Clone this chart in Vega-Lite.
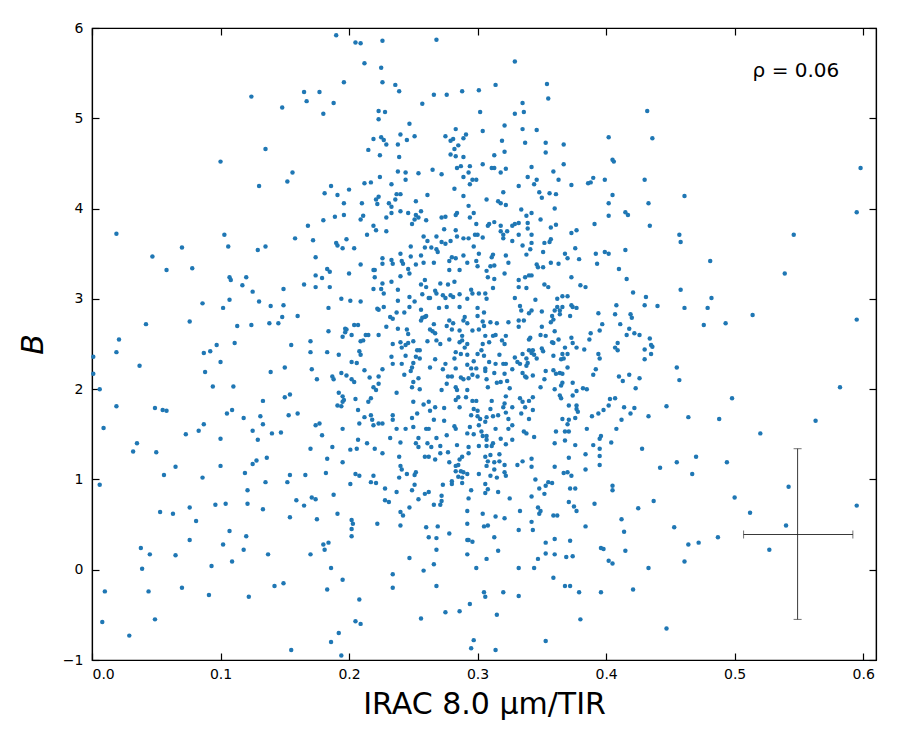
{
"$schema":"https://vega.github.io/schema/vega-lite/v6.json",
"width":784,"height":632,
"autosize":{"type":"none"},
"padding":{"left":92,"top":28,"right":24,"bottom":90},
"background":"white",
"config":{"view":{"stroke":"black","strokeWidth":1.2},"font":"DejaVu Sans"},
"datasets":{
"pts":[
{"x":0.124,"y":5.24},{"x":0.148,"y":5.12},{"x":0.135,"y":4.66},{"x":0.100,"y":4.52},{"x":0.130,"y":4.25},{"x":0.152,"y":4.30},{"x":0.019,"y":3.72},{"x":0.103,"y":3.71},
{"x":0.190,"y":5.92},{"x":0.205,"y":5.84},{"x":0.209,"y":5.83},{"x":0.226,"y":5.86},{"x":0.268,"y":5.87},{"x":0.212,"y":5.61},{"x":0.225,"y":5.56},{"x":0.196,"y":5.40},{"x":0.226,"y":5.40},{"x":0.236,"y":5.37},{"x":0.239,"y":5.30},{"x":0.165,"y":5.29},{"x":0.177,"y":5.29},{"x":0.167,"y":5.19},{"x":0.188,"y":5.17},{"x":0.180,"y":5.05},{"x":0.266,"y":5.26},{"x":0.276,"y":5.26},{"x":0.288,"y":5.30},{"x":0.301,"y":5.31},{"x":0.257,"y":5.16},{"x":0.302,"y":5.07},{"x":0.223,"y":5.08},{"x":0.228,"y":5.07},{"x":0.223,"y":4.99},{"x":0.247,"y":4.94},{"x":0.240,"y":4.82},{"x":0.225,"y":4.79},{"x":0.219,"y":4.77},{"x":0.227,"y":4.76},{"x":0.229,"y":4.71},{"x":0.238,"y":4.71},{"x":0.245,"y":4.76},{"x":0.251,"y":4.80},{"x":0.215,"y":4.65},{"x":0.224,"y":4.59},{"x":0.239,"y":4.57},{"x":0.275,"y":4.80},{"x":0.283,"y":4.88},{"x":0.291,"y":4.82},{"x":0.289,"y":4.78},{"x":0.279,"y":4.75},{"x":0.281,"y":4.77},{"x":0.304,"y":4.86},{"x":0.285,"y":4.70},{"x":0.282,"y":4.66},{"x":0.279,"y":4.60},{"x":0.283,"y":4.58},{"x":0.289,"y":4.57},{"x":0.156,"y":4.40},{"x":0.238,"y":4.41},{"x":0.244,"y":4.40},{"x":0.254,"y":4.39},{"x":0.265,"y":4.43},{"x":0.272,"y":4.38},{"x":0.284,"y":4.45},{"x":0.287,"y":4.47},{"x":0.294,"y":4.47},{"x":0.293,"y":4.40},{"x":0.304,"y":4.49},{"x":0.224,"y":4.35},{"x":0.244,"y":4.32},{"x":0.289,"y":4.35},{"x":0.296,"y":4.32},{"x":0.299,"y":4.32},{"x":0.294,"y":4.27},{"x":0.212,"y":4.28},{"x":0.217,"y":4.29},{"x":0.233,"y":4.27},{"x":0.186,"y":4.25},{"x":0.200,"y":4.21},{"x":0.181,"y":4.17},{"x":0.191,"y":4.15},{"x":0.223,"y":4.13},{"x":0.221,"y":4.10},{"x":0.237,"y":4.16},{"x":0.240,"y":4.16},{"x":0.236,"y":4.10},{"x":0.261,"y":4.15},{"x":0.282,"y":4.22},{"x":0.289,"y":4.14},{"x":0.196,"y":4.06},{"x":0.210,"y":4.06},{"x":0.222,"y":4.05},{"x":0.231,"y":4.06},{"x":0.233,"y":4.02},{"x":0.252,"y":4.08},{"x":0.293,"y":4.03},{"x":0.240,"y":3.97},{"x":0.256,"y":3.97},{"x":0.233,"y":3.95},{"x":0.246,"y":3.95},{"x":0.252,"y":3.93},{"x":0.254,"y":3.90},{"x":0.251,"y":3.88},{"x":0.260,"y":3.87},{"x":0.249,"y":3.83},{"x":0.284,"y":3.95},{"x":0.283,"y":3.93},{"x":0.297,"y":3.95},{"x":0.272,"y":3.90},{"x":0.275,"y":3.91},{"x":0.294,"y":3.90},{"x":0.299,"y":3.83},{"x":0.211,"y":3.92},{"x":0.209,"y":3.88},{"x":0.189,"y":3.91},{"x":0.196,"y":3.93},{"x":0.229,"y":3.90},{"x":0.180,"y":3.87},{"x":0.168,"y":3.81},{"x":0.219,"y":3.81},{"x":0.221,"y":3.76},{"x":0.229,"y":3.75},{"x":0.214,"y":3.71},{"x":0.274,"y":3.77},{"x":0.283,"y":3.76},{"x":0.258,"y":3.69},{"x":0.268,"y":3.69},{"x":0.284,"y":3.69},{"x":0.289,"y":3.67},{"x":0.293,"y":3.67},{"x":0.298,"y":3.71},{"x":0.300,"y":3.71},{"x":0.304,"y":3.68},{"x":0.158,"y":3.67},{"x":0.172,"y":3.65},{"x":0.198,"y":3.66},
{"x":0.329,"y":5.63},{"x":0.314,"y":5.37},{"x":0.354,"y":5.38},{"x":0.355,"y":5.22},{"x":0.335,"y":5.17},{"x":0.329,"y":5.05},{"x":0.336,"y":5.07},{"x":0.321,"y":4.92},{"x":0.335,"y":4.88},{"x":0.346,"y":4.87},{"x":0.319,"y":4.75},{"x":0.337,"y":4.73},{"x":0.353,"y":4.73},{"x":0.367,"y":4.71},{"x":0.321,"y":4.63},{"x":0.353,"y":4.62},{"x":0.313,"y":4.59},{"x":0.311,"y":4.45},{"x":0.313,"y":4.45},{"x":0.322,"y":4.44},{"x":0.318,"y":4.40},{"x":0.342,"y":4.46},{"x":0.367,"y":4.49},{"x":0.359,"y":4.41},{"x":0.339,"y":4.35},{"x":0.346,"y":4.32},{"x":0.363,"y":4.32},{"x":0.344,"y":4.27},{"x":0.332,"y":4.25},{"x":0.373,"y":4.26},{"x":0.320,"y":4.18},{"x":0.348,"y":4.18},{"x":0.356,"y":4.17},{"x":0.361,"y":4.16},{"x":0.350,"y":4.12},{"x":0.307,"y":4.10},{"x":0.316,"y":4.08},{"x":0.318,"y":4.06},{"x":0.322,"y":4.04},{"x":0.334,"y":3.99},{"x":0.360,"y":4.00},{"x":0.342,"y":3.95},{"x":0.338,"y":3.92},{"x":0.349,"y":3.88},{"x":0.313,"y":3.85},{"x":0.309,"y":3.83},{"x":0.308,"y":3.81},{"x":0.318,"y":3.81},{"x":0.329,"y":3.83},{"x":0.332,"y":3.84},{"x":0.327,"y":3.81},{"x":0.339,"y":3.84},{"x":0.339,"y":3.78},{"x":0.357,"y":3.79},{"x":0.361,"y":3.82},{"x":0.318,"y":3.75},{"x":0.323,"y":3.75},{"x":0.320,"y":3.71},{"x":0.332,"y":3.71},{"x":0.342,"y":3.71},{"x":0.320,"y":3.67},{"x":0.357,"y":3.66},{"x":0.373,"y":3.73},{"x":0.377,"y":3.76},{"x":0.391,"y":3.83},{"x":0.402,"y":4.79},{"x":0.405,"y":4.54},{"x":0.406,"y":4.52},{"x":0.386,"y":4.28},{"x":0.388,"y":4.29},{"x":0.390,"y":4.34},{"x":0.399,"y":4.32},{"x":0.402,"y":4.06},{"x":0.405,"y":4.15},{"x":0.402,"y":3.92},{"x":0.415,"y":3.96},{"x":0.417,"y":3.93},{"x":0.432,"y":5.08},{"x":0.436,"y":4.78},{"x":0.430,"y":4.32},{"x":0.433,"y":4.06},{"x":0.434,"y":3.81},{"x":0.457,"y":3.71},
{"x":0.461,"y":4.14},{"x":0.546,"y":3.71},{"x":0.598,"y":4.45},{"x":0.595,"y":3.96},
{"x":0.070,"y":3.57},{"x":0.106,"y":3.58},{"x":0.129,"y":3.54},{"x":0.135,"y":3.58},{"x":0.047,"y":3.47},{"x":0.058,"y":3.32},{"x":0.078,"y":3.34},{"x":0.107,"y":3.24},{"x":0.108,"y":3.21},{"x":0.120,"y":3.24},{"x":0.117,"y":3.15},{"x":0.125,"y":3.08},{"x":0.149,"y":3.11},{"x":0.086,"y":2.95},{"x":0.107,"y":2.99},{"x":0.102,"y":2.90},{"x":0.130,"y":2.97},{"x":0.139,"y":2.92},{"x":0.149,"y":2.93},{"x":0.148,"y":2.80},{"x":0.042,"y":2.72},{"x":0.076,"y":2.75},{"x":0.113,"y":2.70},{"x":0.124,"y":2.71},{"x":0.138,"y":2.73},{"x":0.145,"y":2.73},{"x":0.021,"y":2.55},{"x":0.019,"y":2.41},{"x":0.097,"y":2.49},{"x":0.111,"y":2.51},{"x":0.087,"y":2.40},{"x":0.092,"y":2.42},{"x":0.100,"y":2.30},{"x":0.001,"y":2.36},{"x":0.001,"y":2.17},{"x":0.037,"y":2.26},{"x":0.088,"y":2.19},{"x":0.139,"y":2.19},{"x":0.150,"y":2.24},{"x":0.006,"y":2.00},{"x":0.094,"y":2.03},{"x":0.110,"y":2.03},{"x":0.019,"y":1.81},{"x":0.049,"y":1.79},{"x":0.055,"y":1.77},{"x":0.058,"y":1.76},{"x":0.133,"y":1.87},{"x":0.150,"y":1.91},{"x":0.105,"y":1.73},{"x":0.109,"y":1.77},{"x":0.118,"y":1.68},{"x":0.131,"y":1.70},{"x":0.153,"y":1.71},{"x":0.133,"y":1.61},{"x":0.009,"y":1.57},{"x":0.087,"y":1.61},{"x":0.083,"y":1.54},{"x":0.073,"y":1.50},{"x":0.125,"y":1.54},{"x":0.140,"y":1.51},{"x":0.147,"y":1.52},{"x":0.100,"y":1.45},{"x":0.129,"y":1.44},{"x":0.035,"y":1.40},{"x":0.032,"y":1.31},{"x":0.050,"y":1.30},
{"x":0.056,"y":1.05},{"x":0.065,"y":1.14},{"x":0.086,"y":1.02},{"x":0.100,"y":1.15},{"x":0.119,"y":1.07},{"x":0.125,"y":1.17},{"x":0.128,"y":1.21},{"x":0.136,"y":1.24},{"x":0.006,"y":0.94},{"x":0.135,"y":0.97},{"x":0.152,"y":0.97},{"x":0.121,"y":0.88},{"x":0.053,"y":0.64},{"x":0.063,"y":0.62},{"x":0.076,"y":0.69},{"x":0.096,"y":0.72},{"x":0.104,"y":0.73},{"x":0.121,"y":0.73},{"x":0.133,"y":0.67},{"x":0.081,"y":0.54},{"x":0.107,"y":0.43},{"x":0.120,"y":0.37},{"x":0.076,"y":0.33},{"x":0.102,"y":0.28},{"x":0.038,"y":0.24},{"x":0.045,"y":0.17},{"x":0.065,"y":0.16},{"x":0.118,"y":0.22},{"x":0.109,"y":0.09},{"x":0.137,"y":0.17},{"x":0.039,"y":0.01},{"x":0.093,"y":0.04},{"x":0.010,"y":-0.24},{"x":0.044,"y":-0.24},{"x":0.070,"y":-0.20},{"x":0.091,"y":-0.28},{"x":0.122,"y":-0.30},{"x":0.142,"y":-0.18},{"x":0.149,"y":-0.15},{"x":0.008,"y":-0.58},{"x":0.049,"y":-0.55},{"x":0.029,"y":-0.73},
{"x":0.455,"y":1.19},{"x":0.470,"y":1.25},{"x":0.494,"y":1.19},{"x":0.467,"y":1.06},{"x":0.542,"y":0.92},{"x":0.500,"y":0.80},{"x":0.512,"y":0.63},{"x":0.540,"y":0.49},{"x":0.595,"y":0.71},{"x":0.487,"y":0.36},{"x":0.464,"y":0.28},{"x":0.472,"y":0.30},{"x":0.527,"y":0.22},{"x":0.461,"y":0.09},
{"x":0.458,"y":3.63},{"x":0.481,"y":3.42},{"x":0.539,"y":3.28},{"x":0.458,"y":3.10},{"x":0.482,"y":3.01},{"x":0.461,"y":2.90},{"x":0.479,"y":2.90},{"x":0.514,"y":2.82},{"x":0.476,"y":2.71},{"x":0.493,"y":2.73},{"x":0.595,"y":2.77},{"x":0.455,"y":2.24},{"x":0.457,"y":2.10},{"x":0.582,"y":2.02},{"x":0.498,"y":1.90},{"x":0.464,"y":1.69},{"x":0.488,"y":1.67},{"x":0.563,"y":1.65},{"x":0.520,"y":1.51},
{"x":0.428,"y":1.34},{"x":0.442,"y":1.13},{"x":0.395,"y":1.34},{"x":0.395,"y":1.26},{"x":0.395,"y":1.16},{"x":0.384,"y":1.28},{"x":0.384,"y":1.11},{"x":0.371,"y":1.24},{"x":0.367,"y":1.07},{"x":0.370,"y":1.08},{"x":0.373,"y":1.04},{"x":0.360,"y":1.14},{"x":0.342,"y":1.23},{"x":0.342,"y":1.14},{"x":0.335,"y":1.20},{"x":0.331,"y":1.16},{"x":0.317,"y":1.28},{"x":0.310,"y":1.27},{"x":0.306,"y":1.25},{"x":0.308,"y":1.20},{"x":0.313,"y":1.19},{"x":0.317,"y":1.20},{"x":0.321,"y":1.16},{"x":0.307,"y":1.15},{"x":0.313,"y":1.11},{"x":0.321,"y":1.08},{"x":0.322,"y":1.04},{"x":0.310,"y":1.04},{"x":0.315,"y":1.02},{"x":0.345,"y":1.00},{"x":0.355,"y":0.97},{"x":0.358,"y":0.96},{"x":0.353,"y":0.93},{"x":0.306,"y":0.95},{"x":0.308,"y":0.89},{"x":0.306,"y":0.85},{"x":0.316,"y":0.86},{"x":0.348,"y":0.90},{"x":0.352,"y":0.84},{"x":0.372,"y":0.90},{"x":0.376,"y":0.90},{"x":0.325,"y":0.79},{"x":0.342,"y":0.81},{"x":0.371,"y":0.75},{"x":0.405,"y":0.93},{"x":0.405,"y":0.88},{"x":0.437,"y":0.76},{"x":0.391,"y":0.73},{"x":0.347,"y":0.69},{"x":0.375,"y":0.70},{"x":0.349,"y":0.65},{"x":0.348,"y":0.62},{"x":0.333,"y":0.65},{"x":0.377,"y":0.65},{"x":0.425,"y":0.68},{"x":0.304,"y":0.62},{"x":0.314,"y":0.59},{"x":0.321,"y":0.57},{"x":0.359,"y":0.60},{"x":0.362,"y":0.60},{"x":0.412,"y":0.56},{"x":0.342,"y":0.53},{"x":0.305,"y":0.48},{"x":0.308,"y":0.49},{"x":0.384,"y":0.48},{"x":0.414,"y":0.42},{"x":0.453,"y":0.47},{"x":0.332,"y":0.44},{"x":0.343,"y":0.44},{"x":0.313,"y":0.36},{"x":0.353,"y":0.30},{"x":0.360,"y":0.34},{"x":0.372,"y":0.32},{"x":0.316,"y":0.21},{"x":0.353,"y":0.18},{"x":0.360,"y":0.17},{"x":0.369,"y":0.14},{"x":0.374,"y":0.15},{"x":0.396,"y":0.24},{"x":0.398,"y":0.23},{"x":0.415,"y":0.21},{"x":0.307,"y":0.12},{"x":0.347,"y":0.12},{"x":0.402,"y":0.10},{"x":0.405,"y":0.07},{"x":0.332,"y":0.02},{"x":0.344,"y":0.02},{"x":0.433,"y":0.02},{"x":0.359,"y":-0.09},{"x":0.368,"y":-0.18},{"x":0.372,"y":-0.18},{"x":0.305,"y":-0.25},{"x":0.306,"y":-0.30},{"x":0.320,"y":-0.25},{"x":0.332,"y":-0.29},{"x":0.379,"y":-0.25},{"x":0.396,"y":-0.25},{"x":0.421,"y":-0.22},{"x":0.315,"y":-0.50},{"x":0.380,"y":-0.55},{"x":0.447,"y":-0.65},{"x":0.353,"y":-0.79},{"x":0.314,"y":-0.89},
{"x":0.154,"y":0.58},{"x":0.155,"y":-0.89},{"x":0.194,"y":-0.95},{"x":0.186,"y":-0.80},{"x":0.192,"y":-0.70},{"x":0.205,"y":-0.57},{"x":0.209,"y":-0.60},{"x":0.208,"y":-0.33},{"x":0.183,"y":-0.22},{"x":0.195,"y":-0.11},{"x":0.186,"y":0.02},{"x":0.170,"y":0.17},{"x":0.180,"y":0.28},{"x":0.184,"y":0.30},{"x":0.181,"y":0.22},{"x":0.202,"y":0.55},{"x":0.203,"y":0.51},{"x":0.202,"y":0.45},{"x":0.202,"y":0.37},{"x":0.222,"y":0.51},{"x":0.175,"y":0.56},{"x":0.191,"y":0.62},{"x":0.159,"y":0.77},{"x":0.165,"y":0.71},{"x":0.171,"y":0.80},{"x":0.174,"y":0.78},{"x":0.188,"y":0.83},{"x":0.154,"y":1.05},{"x":0.166,"y":1.05},{"x":0.182,"y":1.07},{"x":0.183,"y":1.23},{"x":0.195,"y":1.19},{"x":0.201,"y":0.95},{"x":0.205,"y":1.06},{"x":0.208,"y":1.04},{"x":0.217,"y":0.97},{"x":0.219,"y":1.04},{"x":0.221,"y":0.96},{"x":0.228,"y":0.90},{"x":0.228,"y":0.77},{"x":0.231,"y":0.75},{"x":0.237,"y":0.86},{"x":0.240,"y":0.64},{"x":0.242,"y":0.60},{"x":0.240,"y":0.49},{"x":0.247,"y":0.69},{"x":0.247,"y":0.13},{"x":0.234,"y":-0.05},{"x":0.234,"y":-0.20},{"x":0.256,"y":-0.54},{"x":0.258,"y":-0.01},{"x":0.266,"y":0.06},{"x":0.268,"y":-0.18},{"x":0.275,"y":-0.47},{"x":0.286,"y":-0.46},{"x":0.294,"y":-0.38},{"x":0.299,"y":0.02},{"x":0.297,"y":-0.78},{"x":0.295,"y":-0.87},{"x":0.292,"y":0.17},{"x":0.268,"y":0.22},{"x":0.262,"y":0.36},{"x":0.268,"y":0.35},{"x":0.278,"y":0.40},{"x":0.260,"y":0.47},{"x":0.269,"y":0.48},{"x":0.292,"y":0.51},{"x":0.292,"y":0.33},{"x":0.293,"y":0.33},{"x":0.296,"y":0.31},{"x":0.292,"y":0.65},{"x":0.293,"y":0.79},{"x":0.295,"y":0.88},{"x":0.266,"y":0.72},{"x":0.271,"y":0.72},{"x":0.272,"y":0.76},{"x":0.272,"y":0.82},{"x":0.273,"y":0.94},{"x":0.280,"y":0.95},{"x":0.280,"y":0.98},{"x":0.254,"y":0.78},{"x":0.259,"y":0.84},{"x":0.262,"y":0.86},{"x":0.249,"y":0.88},{"x":0.251,"y":0.94},{"x":0.251,"y":1.05},{"x":0.252,"y":1.08},{"x":0.245,"y":1.06},{"x":0.239,"y":1.02},{"x":0.241,"y":1.11},{"x":0.240,"y":1.15},{"x":0.239,"y":1.25},{"x":0.226,"y":1.29},{"x":0.220,"y":1.34},{"x":0.201,"y":1.33},{"x":0.206,"y":1.34},{"x":0.170,"y":1.34},{"x":0.259,"y":1.25},{"x":0.262,"y":1.25},{"x":0.267,"y":1.22},{"x":0.271,"y":1.29},{"x":0.277,"y":1.30},{"x":0.278,"y":1.19},{"x":0.283,"y":1.15},{"x":0.285,"y":1.16},{"x":0.286,"y":1.22},{"x":0.288,"y":1.25},{"x":0.293,"y":1.29},{"x":0.283,"y":1.09},{"x":0.287,"y":1.09},{"x":0.289,"y":1.08},{"x":0.292,"y":1.06},{"x":0.285,"y":1.03},{"x":0.288,"y":1.02},{"x":0.288,"y":0.96},{"x":0.301,"y":1.06},
{"x":0.279,"y":3.64},{"x":0.272,"y":3.63},{"x":0.275,"y":3.61},{"x":0.190,"y":3.62},{"x":0.191,"y":3.59},{"x":0.195,"y":3.56},{"x":0.204,"y":3.56},{"x":0.174,"y":3.46},{"x":0.209,"y":3.38},{"x":0.174,"y":3.26},{"x":0.179,"y":3.23},{"x":0.183,"y":3.33},{"x":0.185,"y":3.30},{"x":0.174,"y":3.13},{"x":0.185,"y":3.13},{"x":0.165,"y":3.16},{"x":0.200,"y":3.28},{"x":0.194,"y":3.00},{"x":0.201,"y":2.98},{"x":0.209,"y":2.97},{"x":0.184,"y":2.90},{"x":0.160,"y":2.81},{"x":0.184,"y":2.64},{"x":0.197,"y":2.67},{"x":0.198,"y":2.66},{"x":0.197,"y":2.63},{"x":0.204,"y":2.71},{"x":0.207,"y":2.71},{"x":0.202,"y":2.60},{"x":0.195,"y":2.58},{"x":0.213,"y":2.60},{"x":0.215,"y":2.60},{"x":0.223,"y":2.60},{"x":0.209,"y":2.53},{"x":0.211,"y":2.54},{"x":0.155,"y":2.49},{"x":0.170,"y":2.53},{"x":0.170,"y":2.41},{"x":0.183,"y":2.41},{"x":0.192,"y":2.38},{"x":0.208,"y":2.42},{"x":0.209,"y":2.38},{"x":0.202,"y":2.30},{"x":0.206,"y":2.29},{"x":0.171,"y":2.22},{"x":0.212,"y":2.21},{"x":0.175,"y":2.11},{"x":0.187,"y":2.14},{"x":0.188,"y":2.11},{"x":0.194,"y":2.18},{"x":0.198,"y":2.15},{"x":0.202,"y":2.11},{"x":0.204,"y":2.08},{"x":0.216,"y":2.13},{"x":0.223,"y":2.14},{"x":0.219,"y":2.02},{"x":0.221,"y":1.99},{"x":0.223,"y":2.06},{"x":0.192,"y":1.96},{"x":0.195,"y":1.92},{"x":0.196,"y":1.88},{"x":0.195,"y":1.86},{"x":0.191,"y":1.82},{"x":0.194,"y":1.81},{"x":0.205,"y":1.89},{"x":0.215,"y":1.86},{"x":0.217,"y":1.90},{"x":0.154,"y":1.94},{"x":0.160,"y":1.73},{"x":0.207,"y":1.77},{"x":0.212,"y":1.69},{"x":0.217,"y":1.71},{"x":0.218,"y":1.66},{"x":0.219,"y":1.60},{"x":0.208,"y":1.62},{"x":0.223,"y":1.62},{"x":0.226,"y":1.62},{"x":0.177,"y":1.62},{"x":0.174,"y":1.60},{"x":0.195,"y":1.56},{"x":0.179,"y":1.49},{"x":0.207,"y":1.44},{"x":0.187,"y":1.36},{"x":0.214,"y":1.40},{"x":0.232,"y":1.46},
{"x":0.226,"y":3.45},{"x":0.233,"y":3.43},{"x":0.234,"y":3.39},{"x":0.226,"y":3.39},{"x":0.240,"y":3.50},{"x":0.241,"y":3.42},{"x":0.242,"y":3.39},{"x":0.248,"y":3.47},{"x":0.248,"y":3.58},{"x":0.219,"y":3.32},{"x":0.220,"y":3.32},{"x":0.220,"y":3.24},{"x":0.233,"y":3.19},{"x":0.240,"y":3.25},{"x":0.246,"y":3.33},{"x":0.247,"y":3.28},{"x":0.252,"y":3.38},{"x":0.226,"y":3.17},{"x":0.225,"y":3.11},{"x":0.219,"y":3.11},{"x":0.227,"y":3.06},{"x":0.238,"y":3.10},{"x":0.238,"y":2.98},{"x":0.247,"y":3.02},{"x":0.251,"y":2.97},{"x":0.259,"y":3.21},{"x":0.256,"y":3.16},{"x":0.260,"y":3.13},{"x":0.257,"y":3.05},{"x":0.262,"y":3.01},{"x":0.258,"y":3.40},{"x":0.256,"y":3.48},{"x":0.259,"y":3.57},{"x":0.264,"y":3.57},{"x":0.261,"y":3.64},{"x":0.268,"y":3.55},{"x":0.269,"y":3.52},{"x":0.266,"y":3.40},{"x":0.222,"y":2.89},{"x":0.223,"y":2.88},{"x":0.227,"y":2.91},{"x":0.232,"y":2.80},{"x":0.234,"y":2.78},{"x":0.237,"y":2.85},{"x":0.243,"y":2.85},{"x":0.247,"y":2.91},{"x":0.256,"y":2.88},{"x":0.257,"y":2.79},{"x":0.256,"y":2.76},{"x":0.259,"y":2.80},{"x":0.260,"y":2.81},{"x":0.229,"y":2.69},{"x":0.238,"y":2.67},{"x":0.245,"y":2.66},{"x":0.246,"y":2.61},{"x":0.234,"y":2.50},{"x":0.240,"y":2.52},{"x":0.241,"y":2.46},{"x":0.244,"y":2.49},{"x":0.246,"y":2.51},{"x":0.250,"y":2.53},{"x":0.253,"y":2.43},{"x":0.255,"y":2.43},{"x":0.233,"y":2.36},{"x":0.244,"y":2.37},{"x":0.252,"y":2.36},{"x":0.255,"y":2.34},{"x":0.234,"y":2.28},{"x":0.241,"y":2.28},{"x":0.250,"y":2.29},{"x":0.249,"y":2.24},{"x":0.248,"y":2.20},{"x":0.226,"y":2.22},{"x":0.243,"y":2.16},{"x":0.254,"y":2.12},{"x":0.250,"y":2.08},{"x":0.249,"y":2.02},{"x":0.255,"y":2.00},{"x":0.237,"y":1.96},{"x":0.250,"y":1.86},{"x":0.253,"y":1.73},{"x":0.234,"y":1.71},{"x":0.234,"y":1.66},{"x":0.237,"y":1.56},{"x":0.244,"y":1.56},{"x":0.250,"y":1.58},{"x":0.249,"y":1.68},{"x":0.260,"y":1.56},{"x":0.262,"y":1.56},{"x":0.258,"y":1.83},{"x":0.262,"y":1.86},{"x":0.267,"y":1.80},{"x":0.274,"y":1.79},{"x":0.274,"y":1.65},{"x":0.266,"y":1.66},{"x":0.268,"y":1.46},{"x":0.276,"y":1.49},{"x":0.283,"y":1.56},{"x":0.282,"y":1.59},{"x":0.292,"y":1.51},{"x":0.294,"y":1.58},{"x":0.297,"y":1.50},{"x":0.301,"y":1.60},{"x":0.302,"y":1.67},{"x":0.300,"y":1.70},{"x":0.300,"y":1.76},{"x":0.297,"y":1.78},{"x":0.296,"y":1.87},{"x":0.299,"y":1.87},{"x":0.291,"y":1.91},{"x":0.283,"y":1.88},{"x":0.285,"y":1.91},{"x":0.286,"y":1.80},{"x":0.276,"y":2.06},{"x":0.283,"y":2.02},{"x":0.284,"y":1.99},{"x":0.272,"y":1.99},{"x":0.292,"y":1.99},{"x":0.296,"y":2.16},{"x":0.293,"y":2.12},{"x":0.289,"y":2.11},{"x":0.287,"y":2.13},{"x":0.280,"y":2.14},{"x":0.277,"y":2.14},{"x":0.300,"y":2.14},{"x":0.292,"y":2.27},{"x":0.295,"y":2.23},{"x":0.299,"y":2.23},{"x":0.283,"y":2.23},{"x":0.275,"y":2.28},{"x":0.273,"y":2.22},{"x":0.267,"y":2.33},{"x":0.263,"y":2.24},{"x":0.282,"y":2.34},{"x":0.287,"y":2.39},{"x":0.283,"y":2.41},{"x":0.292,"y":2.38},{"x":0.297,"y":2.31},{"x":0.300,"y":2.39},{"x":0.303,"y":2.43},{"x":0.290,"y":2.46},{"x":0.288,"y":2.54},{"x":0.288,"y":2.59},{"x":0.286,"y":2.52},{"x":0.292,"y":2.50},{"x":0.271,"y":2.50},{"x":0.278,"y":2.55},{"x":0.268,"y":2.54},{"x":0.261,"y":2.53},{"x":0.263,"y":2.66},{"x":0.265,"y":2.64},{"x":0.267,"y":2.62},{"x":0.276,"y":2.70},{"x":0.280,"y":2.66},{"x":0.286,"y":2.65},{"x":0.296,"y":2.65},{"x":0.301,"y":2.66},{"x":0.290,"y":2.80},{"x":0.289,"y":2.76},{"x":0.292,"y":2.73},{"x":0.281,"y":2.73},{"x":0.278,"y":2.76},{"x":0.266,"y":2.72},{"x":0.270,"y":2.90},{"x":0.276,"y":2.91},{"x":0.286,"y":2.91},{"x":0.281,"y":3.02},{"x":0.279,"y":3.04},{"x":0.273,"y":3.04},{"x":0.275,"y":3.01},{"x":0.268,"y":3.06},{"x":0.267,"y":3.09},{"x":0.263,"y":3.01},{"x":0.271,"y":3.17},{"x":0.277,"y":3.16},{"x":0.282,"y":3.19},{"x":0.286,"y":3.05},{"x":0.295,"y":3.10},{"x":0.296,"y":3.06},{"x":0.301,"y":3.06},{"x":0.292,"y":3.00},{"x":0.300,"y":2.90},{"x":0.300,"y":2.81},{"x":0.278,"y":3.32},{"x":0.286,"y":3.32},{"x":0.278,"y":3.42},{"x":0.280,"y":3.46},{"x":0.283,"y":3.45},{"x":0.289,"y":3.48},{"x":0.292,"y":3.40},{"x":0.299,"y":3.42},{"x":0.301,"y":3.50},{"x":0.300,"y":3.36},{"x":0.297,"y":3.58},
{"x":0.263,"y":1.76},{"x":0.295,"y":1.71},{"x":0.303,"y":1.53},{"x":0.254,"y":1.46},{"x":0.252,"y":1.40},{"x":0.254,"y":1.36},{"x":0.261,"y":1.40},{"x":0.264,"y":1.36},{"x":0.271,"y":1.37},{"x":0.284,"y":1.38},{"x":0.293,"y":1.36},{"x":0.301,"y":1.37},{"x":0.240,"y":1.41},
{"x":0.327,"y":3.64},{"x":0.335,"y":3.59},{"x":0.341,"y":3.55},{"x":0.338,"y":3.49},{"x":0.342,"y":3.62},{"x":0.352,"y":3.62},{"x":0.356,"y":3.63},{"x":0.351,"y":3.52},{"x":0.363,"y":3.39},{"x":0.368,"y":3.50},{"x":0.370,"y":3.45},{"x":0.376,"y":3.56},{"x":0.379,"y":3.44},{"x":0.392,"y":3.50},{"x":0.399,"y":3.52},{"x":0.402,"y":3.50},{"x":0.415,"y":3.54},{"x":0.393,"y":3.39},{"x":0.357,"y":3.40},{"x":0.346,"y":3.38},{"x":0.347,"y":3.35},{"x":0.351,"y":3.35},{"x":0.322,"y":3.48},{"x":0.324,"y":3.40},{"x":0.312,"y":3.49},{"x":0.311,"y":3.46},{"x":0.313,"y":3.37},{"x":0.310,"y":3.36},{"x":0.307,"y":3.31},{"x":0.308,"y":3.24},{"x":0.313,"y":3.22},{"x":0.321,"y":3.28},{"x":0.332,"y":3.21},{"x":0.332,"y":3.13},{"x":0.338,"y":3.12},{"x":0.337,"y":3.24},{"x":0.340,"y":3.26},{"x":0.342,"y":3.26},{"x":0.352,"y":3.16},{"x":0.355,"y":3.13},{"x":0.373,"y":3.24},{"x":0.380,"y":3.15},{"x":0.384,"y":3.13},{"x":0.410,"y":3.33},{"x":0.416,"y":3.22},{"x":0.421,"y":3.07},{"x":0.431,"y":3.02},{"x":0.430,"y":2.93},{"x":0.440,"y":2.92},{"x":0.408,"y":2.93},{"x":0.407,"y":2.83},{"x":0.419,"y":2.83},{"x":0.420,"y":2.79},{"x":0.411,"y":2.72},{"x":0.418,"y":2.67},{"x":0.416,"y":2.60},{"x":0.422,"y":2.62},{"x":0.426,"y":2.60},{"x":0.434,"y":2.56},{"x":0.435,"y":2.49},{"x":0.436,"y":2.47},{"x":0.430,"y":2.44},{"x":0.435,"y":2.39},{"x":0.430,"y":2.33},{"x":0.409,"y":2.51},{"x":0.407,"y":2.46},{"x":0.409,"y":2.43},{"x":0.395,"y":2.65},{"x":0.397,"y":2.72},{"x":0.394,"y":2.84},{"x":0.388,"y":2.62},{"x":0.387,"y":2.55},{"x":0.394,"y":2.39},{"x":0.395,"y":2.34},{"x":0.383,"y":2.44},{"x":0.392,"y":2.22},{"x":0.390,"y":2.16},{"x":0.410,"y":2.14},{"x":0.413,"y":2.09},{"x":0.418,"y":2.16},{"x":0.426,"y":2.12},{"x":0.423,"y":2.01},{"x":0.447,"y":1.81},{"x":0.433,"y":1.70},{"x":0.422,"y":1.79},{"x":0.419,"y":1.73},{"x":0.414,"y":1.80},{"x":0.412,"y":1.66},{"x":0.407,"y":1.90},{"x":0.403,"y":1.89},{"x":0.402,"y":1.82},{"x":0.398,"y":1.77},{"x":0.394,"y":1.73},{"x":0.389,"y":1.70},{"x":0.408,"y":1.56},{"x":0.404,"y":1.41},{"x":0.396,"y":1.48},{"x":0.395,"y":1.45},{"x":0.390,"y":1.38},{"x":0.385,"y":1.56},{"x":0.376,"y":1.38},{"x":0.368,"y":1.43},{"x":0.360,"y":1.40},{"x":0.361,"y":1.53},{"x":0.368,"y":1.53},{"x":0.371,"y":1.53},{"x":0.370,"y":1.61},{"x":0.371,"y":1.66},{"x":0.366,"y":1.67},{"x":0.376,"y":1.68},{"x":0.378,"y":1.75},{"x":0.377,"y":1.78},{"x":0.371,"y":1.82},{"x":0.377,"y":1.82},{"x":0.374,"y":1.93},{"x":0.377,"y":1.98},{"x":0.374,"y":2.07},{"x":0.382,"y":2.01},{"x":0.385,"y":2.00},{"x":0.366,"y":2.07},{"x":0.365,"y":2.04},{"x":0.360,"y":2.00},{"x":0.364,"y":1.93},{"x":0.365,"y":1.90},{"x":0.359,"y":2.21},{"x":0.361,"y":2.17},{"x":0.364,"y":2.18},{"x":0.366,"y":2.17},{"x":0.370,"y":2.24},{"x":0.365,"y":2.33},{"x":0.367,"y":2.34},{"x":0.366,"y":2.39},{"x":0.370,"y":2.39},{"x":0.368,"y":2.46},{"x":0.359,"y":2.37},{"x":0.359,"y":2.51},{"x":0.358,"y":2.52},{"x":0.363,"y":2.55},{"x":0.373,"y":2.57},{"x":0.374,"y":2.51},{"x":0.377,"y":2.46},{"x":0.353,"y":2.59},{"x":0.349,"y":2.60},{"x":0.350,"y":2.69},{"x":0.359,"y":2.77},{"x":0.357,"y":2.74},{"x":0.360,"y":2.64},{"x":0.360,"y":2.87},{"x":0.364,"y":2.87},{"x":0.366,"y":2.91},{"x":0.362,"y":2.91},{"x":0.364,"y":2.83},{"x":0.372,"y":2.81},{"x":0.373,"y":2.93},{"x":0.374,"y":2.91},{"x":0.377,"y":2.90},{"x":0.362,"y":3.00},{"x":0.366,"y":3.03},{"x":0.370,"y":3.03},{"x":0.345,"y":2.99},{"x":0.342,"y":2.87},{"x":0.350,"y":2.86},{"x":0.340,"y":2.84},{"x":0.333,"y":2.92},{"x":0.334,"y":2.87},{"x":0.329,"y":3.01},{"x":0.332,"y":2.76},{"x":0.336,"y":2.76},{"x":0.332,"y":2.69},{"x":0.324,"y":2.74},{"x":0.315,"y":2.73},{"x":0.310,"y":2.74},{"x":0.304,"y":2.75},{"x":0.305,"y":2.70},{"x":0.306,"y":3.06},{"x":0.307,"y":3.00},{"x":0.312,"y":3.12},{"x":0.305,"y":2.85},{"x":0.306,"y":2.59},{"x":0.312,"y":2.59},{"x":0.314,"y":2.60},{"x":0.322,"y":2.59},{"x":0.319,"y":2.54},{"x":0.321,"y":2.50},{"x":0.309,"y":2.52},{"x":0.304,"y":2.50},{"x":0.317,"y":2.38},{"x":0.305,"y":2.37},{"x":0.309,"y":2.30},{"x":0.314,"y":2.28},{"x":0.320,"y":2.28},{"x":0.322,"y":2.28},{"x":0.306,"y":2.23},{"x":0.306,"y":2.20},{"x":0.313,"y":2.18},{"x":0.321,"y":2.17},{"x":0.327,"y":2.22},{"x":0.329,"y":2.35},{"x":0.335,"y":2.39},{"x":0.331,"y":2.30},{"x":0.333,"y":2.28},{"x":0.338,"y":2.34},{"x":0.339,"y":2.29},{"x":0.338,"y":2.26},{"x":0.340,"y":2.43},{"x":0.342,"y":2.40},{"x":0.344,"y":2.38},{"x":0.346,"y":2.34},{"x":0.343,"y":2.43},{"x":0.341,"y":2.57},{"x":0.340,"y":2.55},{"x":0.350,"y":2.45},{"x":0.351,"y":2.42},{"x":0.335,"y":2.18},{"x":0.338,"y":2.13},{"x":0.337,"y":2.14},{"x":0.343,"y":2.15},{"x":0.353,"y":2.20},{"x":0.352,"y":2.11},{"x":0.349,"y":2.02},{"x":0.318,"y":2.08},{"x":0.323,"y":2.09},{"x":0.325,"y":2.01},{"x":0.315,"y":2.07},{"x":0.307,"y":2.11},{"x":0.308,"y":2.02},{"x":0.311,"y":1.87},{"x":0.322,"y":1.92},{"x":0.321,"y":1.84},{"x":0.320,"y":1.80},{"x":0.327,"y":1.80},{"x":0.333,"y":1.90},{"x":0.335,"y":1.86},{"x":0.340,"y":1.87},{"x":0.343,"y":1.91},{"x":0.337,"y":1.80},{"x":0.343,"y":1.77},{"x":0.334,"y":1.73},{"x":0.322,"y":1.74},{"x":0.316,"y":1.71},{"x":0.312,"y":1.70},{"x":0.307,"y":1.69},{"x":0.306,"y":1.64},{"x":0.310,"y":1.78},{"x":0.324,"y":1.67},{"x":0.340,"y":1.67},{"x":0.336,"y":1.53},{"x":0.338,"y":1.51},{"x":0.327,"y":1.60},{"x":0.324,"y":1.56},{"x":0.314,"y":1.56},{"x":0.307,"y":1.48},{"x":0.304,"y":1.48},{"x":0.307,"y":1.44},{"x":0.312,"y":1.40},{"x":0.318,"y":1.45},{"x":0.322,"y":1.39},{"x":0.327,"y":1.44},{"x":0.344,"y":1.47},{"x":0.307,"y":1.37},{"x":0.311,"y":1.37},{"x":0.358,"y":2.81}
],
"hbar":[{"lo":0.507,"hi":0.592,"yc":0.39}],
"vbar":[{"xc":0.549,"lo":-0.55,"hi":1.34}],
"note":[{"x":0.514,"y":5.52,"t":"ρ = 0.06"}]
},
"layer":[
{"data":{"name":"pts"},
 "mark":{"type":"circle","size":20,"color":"#1f77b4","opacity":1},
 "encoding":{
  "x":{"field":"x","type":"quantitative","scale":{"domain":[0,0.61],"nice":false,"zero":false},
   "axis":{"orient":"bottom","values":[0,0.1,0.2,0.3,0.4,0.5,0.6],"format":".1f","grid":false,"tickSize":-7,"tickWidth":1.2,"tickColor":"black","domainColor":"black","domainWidth":1.2,"labelPadding":14,"labelFontSize":14,"labelColor":"black","labelFont":"DejaVu Sans","title":"IRAC 8.0 μm/TIR","titleFont":"DejaVu Sans","titleFontSize":30,"titleFontWeight":"normal","titleColor":"black","titlePadding":8}},
  "y":{"field":"y","type":"quantitative","scale":{"domain":[-1,6],"nice":false,"zero":false},
   "axis":{"orient":"left","values":[-1,0,1,2,3,4,5,6],"format":"d","grid":false,"tickSize":-7,"tickWidth":1.2,"tickColor":"black","domainColor":"black","domainWidth":1.2,"labelPadding":16,"labelFontSize":14,"labelColor":"black","labelFont":"DejaVu Sans","title":"B","titleFont":"DejaVu Sans","titleFontStyle":"italic","titleFontSize":30,"titleFontWeight":"normal","titleColor":"black","titlePadding":14}}
 }},
{"data":{"name":"hbar"},
 "mark":{"type":"errorbar","ticks":{"size":8},"color":"#222222","thickness":0.9},
 "encoding":{"x":{"field":"lo","type":"quantitative","axis":null},"x2":{"field":"hi"},"y":{"field":"yc","type":"quantitative","axis":null}}},
{"data":{"name":"vbar"},
 "mark":{"type":"errorbar","ticks":{"size":8},"color":"#222222","thickness":0.9},
 "encoding":{"y":{"field":"lo","type":"quantitative","axis":null},"y2":{"field":"hi"},"x":{"field":"xc","type":"quantitative","axis":null}}},
{"data":{"name":"note"},
 "mark":{"type":"text","align":"left","baseline":"middle","fontSize":20,"font":"DejaVu Sans","color":"black"},
 "encoding":{"text":{"field":"t"},
  "x":{"field":"x","type":"quantitative","axis":{"orient":"top","values":[0,0.1,0.2,0.3,0.4,0.5,0.6],"labels":false,"grid":false,"tickSize":-7,"tickWidth":1.2,"tickColor":"black","domainColor":"black","domainWidth":1.2,"title":null}},
  "y":{"field":"y","type":"quantitative","axis":{"orient":"right","values":[-1,0,1,2,3,4,5,6],"labels":false,"grid":false,"tickSize":-7,"tickWidth":1.2,"tickColor":"black","domainColor":"black","domainWidth":1.2,"title":null}}}}
],
"resolve":{"axis":{"x":"independent","y":"independent"}}
}
